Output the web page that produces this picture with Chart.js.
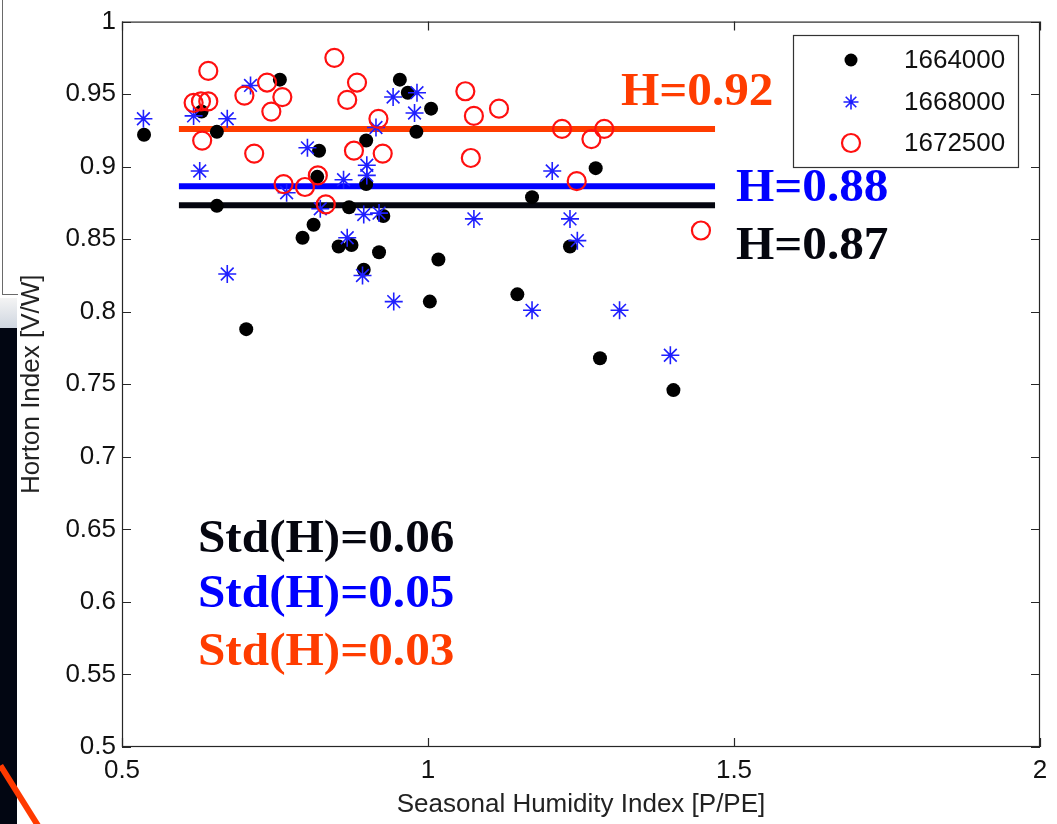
<!DOCTYPE html>
<html>
<head>
<meta charset="utf-8">
<title>Horton Index vs Seasonal Humidity Index</title>
<script src="https://cdn.jsdelivr.net/npm/chart.js@4.4.1/dist/chart.umd.min.js"></script>
<style>
  body { margin: 0; background: #fff; }
  #wrap { position: relative; width: 1057px; height: 824px; overflow: hidden; background: #fff; }
  #chart { position: absolute; left: 0; top: 0; }
  /* bits of the slide behind the figure on the left edge */
  .edge-box { position: absolute; left: 2px; top: -2px; width: 15px; height: 296px; border-left: 1px solid #6a6a6a; border-bottom: 1px solid #6a6a6a; }
  .edge-band { position: absolute; left: 0; top: 298px; width: 17px; height: 30px; background: linear-gradient(#f4f4f4, #cfd6e0); }
  .edge-dark { position: absolute; left: 0; top: 328px; width: 17px; height: 496px; background: #020612; }
  .edge-red { position: absolute; left: 3px; top: 764px; width: 72px; height: 6px; background: #ff3a00; transform: rotate(58deg); transform-origin: 0 0; }
</style>
</head>
<body>
<div id="wrap">
  <div class="edge-box"></div>
  <div class="edge-band"></div>
  <div class="edge-dark"></div>
  <div class="edge-red"></div>
  <canvas id="chart" width="1057" height="824"></canvas>
</div>
<script>
// axis ticks
const xTicks = [0.5, 1, 1.5, 2];
const yTicks = [0.5, 0.55, 0.6, 0.65, 0.7, 0.75, 0.8, 0.85, 0.9, 0.95, 1];

// station names
const stations = ['1664000', '1668000', '1672500'];

// 1664000 (black dots)
const blackX = [0.536, 0.630, 0.655, 0.655, 0.703, 0.758, 0.795, 0.813, 0.819, 0.822,
                0.854, 0.871, 0.875, 0.895, 0.899, 0.899, 0.920, 0.927, 0.954, 0.967,
                0.981, 1.003, 1.005, 1.017, 1.146, 1.170, 1.232, 1.274, 1.281, 1.401];
const blackY = [0.922, 0.938, 0.924, 0.873, 0.788, 0.960, 0.851, 0.860, 0.893, 0.911,
                0.845, 0.872, 0.846, 0.829, 0.918, 0.888, 0.841, 0.866, 0.960, 0.951,
                0.924, 0.807, 0.940, 0.836, 0.812, 0.879, 0.845, 0.899, 0.768, 0.746];

// 1668000 (blue stars)
const blueX = [0.535, 0.617, 0.627, 0.672, 0.672, 0.710, 0.769, 0.803, 0.824, 0.862,
               0.868, 0.893, 0.895, 0.900, 0.900, 0.915, 0.920, 0.943, 0.944, 0.978,
               0.982, 1.075, 1.170, 1.203, 1.232, 1.244, 1.313, 1.396];
const blueY = [0.933, 0.935, 0.897, 0.933, 0.826, 0.956, 0.882, 0.913, 0.871, 0.891,
               0.851, 0.825, 0.867, 0.901, 0.894, 0.927, 0.868, 0.948, 0.807, 0.937,
               0.951, 0.864, 0.801, 0.897, 0.864, 0.849, 0.801, 0.770];

// 1672500 (red circles)
const redX = [0.617, 0.629, 0.631, 0.641, 0.641, 0.700, 0.716, 0.737, 0.744, 0.762,
              0.764, 0.799, 0.820, 0.833, 0.847, 0.868, 0.879, 0.884, 0.919, 0.926,
              1.061, 1.070, 1.075, 1.116, 1.219, 1.243, 1.267, 1.288, 1.446];
const redY = [0.944, 0.945, 0.918, 0.966, 0.945, 0.949, 0.909, 0.958, 0.938, 0.948,
              0.888, 0.886, 0.894, 0.874, 0.975, 0.946, 0.911, 0.958, 0.933, 0.909,
              0.952, 0.906, 0.935, 0.940, 0.926, 0.890, 0.919, 0.926, 0.856];

// mean Horton index lines (black, blue, red) and their x extent
const meanH = [0.8735, 0.8865, 0.926];
const meanSpan = [0.593, 1.469];

// text on the plot
const meanLabels = ['H=0.87', 'H=0.88', 'H=0.92'];
const stdLabels = ['Std(H)=0.06', 'Std(H)=0.05', 'Std(H)=0.03'];

const BLACK = '#000000';
const BLUE = '#1f1fff';
const RED = '#ff1010';
const ORANGE = '#ff3c00';
const lineColors = ['#05060f', '#0000ff', ORANGE];
const textColors = ['#05060f', '#0000ff', ORANGE];

const toPoints = (xs, ys) => xs.map((x, i) => ({ x: x, y: ys[i] }));

const pointSets = [
  { label: stations[0], data: toPoints(blackX, blackY), pointStyle: 'circle', pointRadius: 7,
    pointBackgroundColor: BLACK, pointBorderColor: BLACK, pointBorderWidth: 0, order: 2 },
  { label: stations[1], data: toPoints(blueX, blueY), pointStyle: 'star', pointRadius: 9,
    pointBackgroundColor: BLUE, pointBorderColor: BLUE, pointBorderWidth: 1.6, order: 1 },
  { label: stations[2], data: toPoints(redX, redY), pointStyle: 'circle', pointRadius: 9,
    pointBackgroundColor: 'rgba(0,0,0,0)', pointBorderColor: RED, pointBorderWidth: 2.2, order: 0 }
];

const meanSets = meanH.map((h, i) => ({
  label: 'mean ' + stations[i],
  data: [{ x: meanSpan[0], y: h }, { x: meanSpan[1], y: h }],
  showLine: true,
  borderColor: lineColors[i],
  borderWidth: 6,
  pointRadius: 0,
  order: 3 + i
}));

// box around the plot and inward ticks on all four sides
const frame = {
  id: 'frame',
  beforeDatasetsDraw(chart) {
    const { ctx, chartArea: a, scales: { x, y } } = chart;
    const len = 9;
    ctx.save();
    ctx.strokeStyle = '#262626';
    ctx.lineWidth = 1.2;
    ctx.strokeRect(a.left + 0.5, a.top + 0.5, a.right - a.left - 1, a.bottom - a.top - 1);
    ctx.beginPath();
    xTicks.forEach(v => {
      const px = Math.round(x.getPixelForValue(v)) + 0.5;
      ctx.moveTo(px, a.bottom); ctx.lineTo(px, a.bottom - len);
      ctx.moveTo(px, a.top); ctx.lineTo(px, a.top + len);
    });
    yTicks.forEach(v => {
      const py = Math.round(y.getPixelForValue(v)) + 0.5;
      ctx.moveTo(a.left, py); ctx.lineTo(a.left + len, py);
      ctx.moveTo(a.right, py); ctx.lineTo(a.right - len, py);
    });
    ctx.stroke();
    ctx.restore();
  }
};

// legend box in the upper right and the H / Std(H) notes
const notes = {
  id: 'notes',
  afterDraw(chart) {
    const ctx = chart.ctx;
    ctx.save();

    // legend
    ctx.fillStyle = '#fff';
    ctx.fillRect(793, 35, 225, 132);
    ctx.strokeStyle = '#333';
    ctx.lineWidth = 1.2;
    ctx.strokeRect(793.5, 35.5, 225, 132);
    const rowY = [60, 102, 143];
    pointSets.forEach((ds, i) => {
      ctx.fillStyle = ds.pointBackgroundColor;
      ctx.strokeStyle = ds.pointBorderColor;
      ctx.lineWidth = ds.pointBorderWidth;
      Chart.helpers.drawPoint(ctx, {
        pointStyle: ds.pointStyle,
        radius: i === 0 ? 6.5 : (i === 1 ? 7.5 : 9),
        borderWidth: ds.pointBorderWidth,
        rotation: 0
      }, 851, rowY[i]);
      ctx.fillStyle = '#111';
      ctx.font = '26px "Liberation Sans", Arial, sans-serif';
      ctx.textAlign = 'left';
      ctx.textBaseline = 'middle';
      ctx.fillText(ds.label, 904, rowY[i] + 1);
    });

    // notes in bold serif
    ctx.font = 'bold 46px "Liberation Serif", "Times New Roman", serif';
    ctx.textBaseline = 'alphabetic';
    const put = (txt, color, left, base) => {
      ctx.save();
      ctx.translate(left, base);
      ctx.scale(1.07, 1);
      ctx.fillStyle = color;
      ctx.fillText(txt, 0, 0);
      ctx.restore();
    };
    put(meanLabels[2], textColors[2], 621, 105);
    put(meanLabels[1], textColors[1], 736, 201);
    put(meanLabels[0], textColors[0], 736, 259);
    put(stdLabels[0], textColors[0], 198, 552);
    put(stdLabels[1], textColors[1], 198, 607);
    put(stdLabels[2], textColors[2], 198, 665);
    ctx.restore();
  }
};

const tickFont = { family: '"Liberation Sans", Arial, sans-serif', size: 26 };
const fmt = v => String(+(+v).toFixed(2));

new Chart(document.getElementById('chart'), {
  type: 'scatter',
  data: { datasets: [...pointSets, ...meanSets] },
  options: {
    responsive: false,
    animation: false,
    events: [],
    layout: { padding: { left: 0, top: 20, right: 17, bottom: 0 } },
    plugins: { legend: { display: false }, tooltip: { enabled: false } },
    scales: {
      x: {
        type: 'linear',
        min: 0.5,
        max: 2,
        afterBuildTicks: s => { s.ticks = xTicks.map(v => ({ value: v })); },
        afterFit: s => { s.height = 77; },
        grid: { display: false, drawTicks: false },
        border: { display: false },
        ticks: { color: '#111', font: tickFont, padding: 8, maxRotation: 0, callback: fmt },
        title: { display: true, text: 'Seasonal Humidity Index [P/PE]', color: '#222',
                 font: tickFont, padding: { top: 0, bottom: 4 } }
      },
      y: {
        type: 'linear',
        min: 0.5,
        max: 1,
        afterBuildTicks: s => { s.ticks = yTicks.map(v => ({ value: v })); },
        afterFit: s => { s.width = 122; },
        grid: { display: false, drawTicks: false },
        border: { display: false },
        ticks: { color: '#111', font: tickFont, padding: 6, callback: fmt },
        title: { display: true, text: 'Horton Index [V/W]', color: '#222',
                 font: tickFont, padding: { top: 16, bottom: 0 } }
      }
    }
  },
  plugins: [frame, notes]
});
</script>
</body>
</html>
